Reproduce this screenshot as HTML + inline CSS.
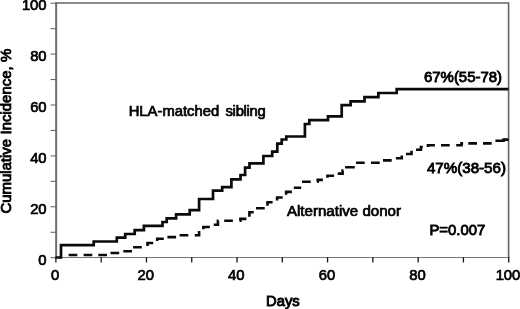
<!DOCTYPE html>
<html><head><meta charset="utf-8"><title>Cumulative incidence</title>
<style>
html,body{margin:0;padding:0;background:#fff;}
body{width:520px;height:309px;overflow:hidden;}
svg{display:block;filter:grayscale(1);}
text{font-family:"Liberation Sans",sans-serif;font-size:14.8px;fill:#000;stroke:#000;stroke-width:0.72px;}
</style></head><body>
<svg width="520" height="309" viewBox="0 0 520 309">
<rect width="520" height="309" fill="#fff"/>
<g fill="none" stroke="#646464" stroke-width="1.6">
<path d="M55.4 3H508.6V258"/>
</g>
<line x1="56.15" x2="56.15" y1="2.3" y2="258" stroke="#6c6c6c" stroke-width="2"/>
<line x1="55.4" x2="509.3" y1="257.5" y2="257.5" stroke="#777" stroke-width="1.1"/>
<g stroke="#666" stroke-width="1.05"><line x1="50.5" x2="56" y1="257.70" y2="257.70"/><line x1="50.5" x2="56" y1="232.25" y2="232.25"/><line x1="50.5" x2="56" y1="206.80" y2="206.80"/><line x1="50.5" x2="56" y1="181.35" y2="181.35"/><line x1="50.5" x2="56" y1="155.90" y2="155.90"/><line x1="50.5" x2="56" y1="130.45" y2="130.45"/><line x1="50.5" x2="56" y1="105.00" y2="105.00"/><line x1="50.5" x2="56" y1="79.55" y2="79.55"/><line x1="50.5" x2="56" y1="54.10" y2="54.10"/><line x1="50.5" x2="56" y1="28.65" y2="28.65"/><line x1="50.5" x2="56" y1="3.20" y2="3.20"/></g>
<g stroke="#151515" stroke-width="1.3"><line x1="55.90" x2="55.90" y1="257.3" y2="262.5"/><line x1="101.18" x2="101.18" y1="257.3" y2="262.5"/><line x1="146.46" x2="146.46" y1="257.3" y2="262.5"/><line x1="191.74" x2="191.74" y1="257.3" y2="262.5"/><line x1="237.02" x2="237.02" y1="257.3" y2="262.5"/><line x1="282.30" x2="282.30" y1="257.3" y2="262.5"/><line x1="327.58" x2="327.58" y1="257.3" y2="262.5"/><line x1="372.86" x2="372.86" y1="257.3" y2="262.5"/><line x1="418.14" x2="418.14" y1="257.3" y2="262.5"/><line x1="463.42" x2="463.42" y1="257.3" y2="262.5"/><line x1="508.70" x2="508.70" y1="257.3" y2="262.5"/></g>
<path d="M68.60 255.00L77.30 255.00M83.60 255.00L92.30 255.00M98.30 255.00L107.00 255.00M110.50 253.00L119.20 253.00M123.30 251.30L132.00 251.30M133.10 247.20L141.80 247.20M147.50 246.00L147.50 243.00L153.20 243.00M157.20 240.90L157.20 238.80L163.80 238.80M167.40 237.10L176.10 237.10M179.60 235.20L188.30 235.20M194.70 235.20L199.10 235.20L199.10 230.90M203.40 229.20L203.40 227.00L209.90 227.00M213.70 224.70L217.90 224.70L217.90 220.80L218.50 220.80M224.20 220.80L232.90 220.80M239.60 220.80L240.40 220.80L240.40 218.90L246.40 218.90M249.40 216.70L249.40 212.30L253.70 212.30M256.00 208.20L264.70 208.20M267.50 205.80L267.50 202.20L272.60 202.20M277.10 200.60L277.10 197.50L282.70 197.50M286.10 194.80L286.10 191.90L291.90 191.90M293.80 187.80L301.20 187.80M302.00 181.70L310.70 181.70M317.20 181.70L317.70 181.70L317.70 179.90L322.90 179.90M327.50 177.80L327.50 175.70L334.10 175.70M337.70 173.60L342.60 173.60L342.60 170.50L343.30 170.50M345.10 167.30L354.80 167.30M356.00 162.80L364.70 162.80M371.00 162.80L379.70 162.80M383.00 160.40L391.70 160.40M395.90 158.30L401.80 158.30L401.80 155.50M406.00 154.00L411.50 154.00L411.50 150.80M416.00 149.80L420.90 149.80L420.90 147.00L422.80 147.00M428.00 147.00L428.00 145.20L434.90 145.20M441.00 145.20L449.70 145.20M456.20 145.20L461.50 145.20L461.50 143.40L463.10 143.40M468.30 143.40L477.00 143.40M483.00 143.40L491.70 143.40M495.40 140.80L503.60 140.80L503.60 139.60L508.50 139.60" fill="none" stroke="#0a0a0a" stroke-width="2.6" stroke-linejoin="miter"/>
<path d="M55.5 257.5H61V245.2H93.7V241.5H116.8V237.7H125.2V234H134.7V230.2H143.9V225.8H162.5V222H166.7V218.3H176.1V214.3H189.7V210.2H199.1V199H213V190.7H222.2V187.2H231.4V179.3H240.5V175H245.1V167.7H249.5V163.3H263.4V156H272.2V151.6H277.3V143.7H281.7V139.5H286.3V136.5H304.9V124H309.3V120.2H328V116.4H341.7V105.2H350.6V101.3H364.5V97.1H378.4V93H396.7V89.1H508.5" fill="none" stroke="#0a0a0a" stroke-width="2.7" stroke-linejoin="miter"/>
<g style="stroke-width:0.85px"><text x="46.6" y="265.0" text-anchor="end">0</text><text x="46.6" y="214.1" text-anchor="end">20</text><text x="46.6" y="163.2" text-anchor="end">40</text><text x="46.6" y="112.3" text-anchor="end">60</text><text x="46.6" y="61.4" text-anchor="end">80</text><text x="46.6" y="10.0" text-anchor="end">100</text></g>
<g style="stroke-width:0.85px"><text x="55.2" y="280.2" text-anchor="middle">0</text><text x="145.8" y="280.2" text-anchor="middle">20</text><text x="236.3" y="280.2" text-anchor="middle">40</text><text x="326.9" y="280.2" text-anchor="middle">60</text><text x="417.4" y="280.2" text-anchor="middle">80</text><text x="508.0" y="280.2" text-anchor="middle">100</text></g>
<text x="128.7" y="116.3">HLA-matched</text><text x="225.5" y="116.3" letter-spacing="-0.28">sibling</text>
<text x="286.9" y="216.1" style="font-size:15.1px">Alternative donor</text>
<text x="424" y="82.0" style="font-size:14.95px;stroke-width:0.85px">67%(55-78)</text>
<text x="426.9" y="173.2" style="font-size:15.15px;stroke-width:0.85px">47%(38-56)</text>
<text x="429.4" y="235.3" style="font-size:14.9px;stroke-width:0.85px">P=0.007</text>
<text x="266" y="305.7" style="stroke-width:0.9px">Days</text>
<text transform="translate(11.3 213.6) rotate(-90)" style="font-size:14.95px;stroke-width:0.85px;word-spacing:0.3px">Cumulative Incidence, %</text>
</svg>
</body></html>
